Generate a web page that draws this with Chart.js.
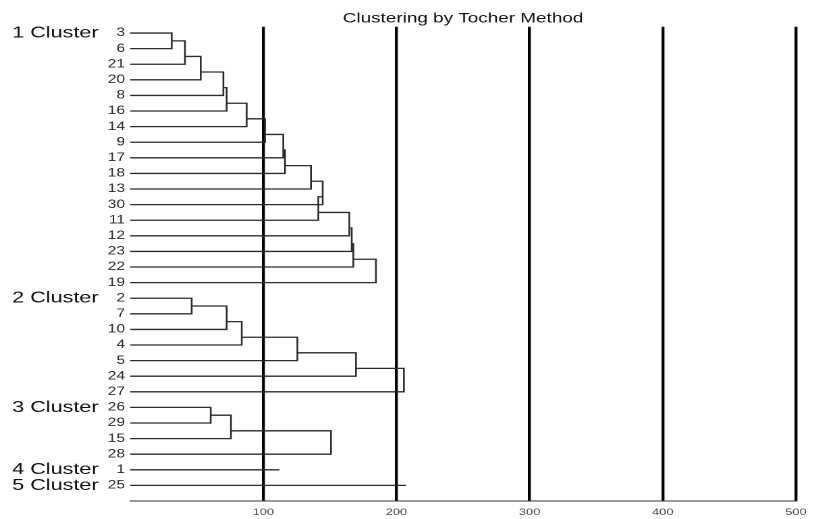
<!DOCTYPE html>
<html>
<head>
<meta charset="utf-8">
<title>Clustering by Tocher Method</title>
<script src="https://cdn.jsdelivr.net/npm/chart.js@4.4.1/dist/chart.umd.min.js"></script>
<style>
  html, body { margin: 0; padding: 0; background: #fff; overflow: hidden; }
  #wrap { width: 814px; height: 519px; overflow: hidden; }
  /* the source figure is stretched sideways, so draw narrow and widen it */
  #chart { transform: scaleX(1.35); transform-origin: 0 0; }
</style>
</head>
<body>
<div id="wrap"><canvas id="chart" width="603" height="519"></canvas></div>
<script>
// ── data ──
const clusterNames = ['1 Cluster', '2 Cluster', '3 Cluster', '4 Cluster', '5 Cluster'];

// genotypes of each cluster, top to bottom
const cluster1 = ['3', '6', '21', '20', '8', '16', '14', '9', '17', '18', '13', '30', '11', '12', '23', '22', '19'];
const cluster2 = ['2', '7', '10', '4', '5', '24', '27'];
const cluster3 = ['26', '29', '15', '28'];
const cluster4 = ['1'];
const cluster5 = ['25'];

// distance at which each next genotype joins the group above it
// (single-member clusters: length of their line)
const joins1 = [31.2, 41.2, 53.0, 70.0, 72.5, 87.5, 101.3, 115.0, 116.3, 135.8, 144.6, 141.3, 164.6, 166.4, 167.6, 184.6];
const joins2 = [46.2, 72.5, 83.8, 125.6, 169.6, 205.6];
const joins3 = [60.5, 75.7, 150.8];
const joins4 = [112.1];
const joins5 = [207.1];

const xTicks = [100, 200, 300, 400, 500];

// ── build ──
const clusters = [
  [cluster1, joins1], [cluster2, joins2], [cluster3, joins3], [cluster4, joins4], [cluster5, joins5],
];

const leafNames = [];
const clusterRows = [];
clusters.forEach(([leaves]) => {
  clusterRows.push(leafNames.length);
  leafNames.push(...leaves);
});

const GAP = { x: null, y: null };

// elbow path of one cluster: each new member is a leaf line plus a bracket
function linkPath(leaves, joins, firstRow) {
  if (leaves.length === 1) {
    return [{ x: 0, y: firstRow }, { x: joins[0], y: firstRow }, GAP];
  }
  const pts = [];
  let prevX = 0, prevY = firstRow;
  joins.forEach((h, k) => {
    const row = firstRow + k + 1;
    pts.push({ x: prevX, y: prevY }, { x: h, y: prevY }, { x: h, y: row }, { x: 0, y: row }, GAP);
    prevX = h;
    prevY = row - 0.5;
  });
  return pts;
}

const datasets = clusters.map(([leaves, joins], i) => ({
  label: clusterNames[i],
  data: linkPath(leaves, joins, clusterRows[i]),
  showLine: true,
  spanGaps: false,
  borderColor: '#2a2a2a',
  borderWidth: 1.3,
  pointRadius: 0,
  yAxisID: 'y',
}));

Chart.defaults.font.family = '"Liberation Sans", Arial, sans-serif';

new Chart(document.getElementById('chart'), {
  type: 'scatter',
  data: { datasets },
  options: {
    responsive: false,
    devicePixelRatio: 2,
    animation: false,
    layout: { padding: { left: 9, right: 13.4, top: 0, bottom: 0 } },
    plugins: {
      legend: { display: false },
      tooltip: { enabled: false },
      title: {
        display: true,
        text: 'Clustering by Tocher Method',
        fullSize: false,
        color: '#111',
        font: { size: 14, weight: 'normal' },
        padding: { top: 10, bottom: 0 },
      },
    },
    scales: {
      x: {
        type: 'linear',
        min: 0,
        max: 500,
        afterBuildTicks: s => { s.ticks = xTicks.map(v => ({ value: v })); },
        afterFit: s => { s.height = 18; },
        ticks: { autoSkip: false, maxRotation: 0, padding: 5.5, color: '#444', font: { size: 9.5 } },
        grid: { color: '#000', lineWidth: 2.2, drawTicks: false, tickLength: 0 },
        border: { display: true, color: '#333', width: 1 },
      },
      y: {
        type: 'linear',
        position: 'left',
        reverse: true,
        min: -0.4,
        max: 30,
        weight: 0,
        afterBuildTicks: s => { s.ticks = leafNames.map((_, i) => ({ value: i })); },
        afterFit: s => { s.width = 22; },
        ticks: {
          autoSkip: false,
          padding: 3.8,
          color: '#2a2a2a',
          font: { size: 11.5 },
          callback: v => leafNames[Math.round(v)],
        },
        grid: { display: false, drawTicks: false },
        border: { display: false },
      },
      yc: {
        type: 'linear',
        position: 'left',
        reverse: true,
        min: -0.4,
        max: 30,
        weight: 1,
        afterBuildTicks: s => { s.ticks = clusterRows.map(v => ({ value: v })); },
        afterFit: s => { s.width = 65.4; },
        ticks: {
          autoSkip: false,
          crossAlign: 'far',
          padding: 0,
          color: '#111',
          font: { size: 16 },
          callback: v => clusterNames[clusterRows.indexOf(Math.round(v))],
        },
        grid: { display: false, drawTicks: false },
        border: { display: false },
      },
    },
  },
});
</script>
</body>
</html>
